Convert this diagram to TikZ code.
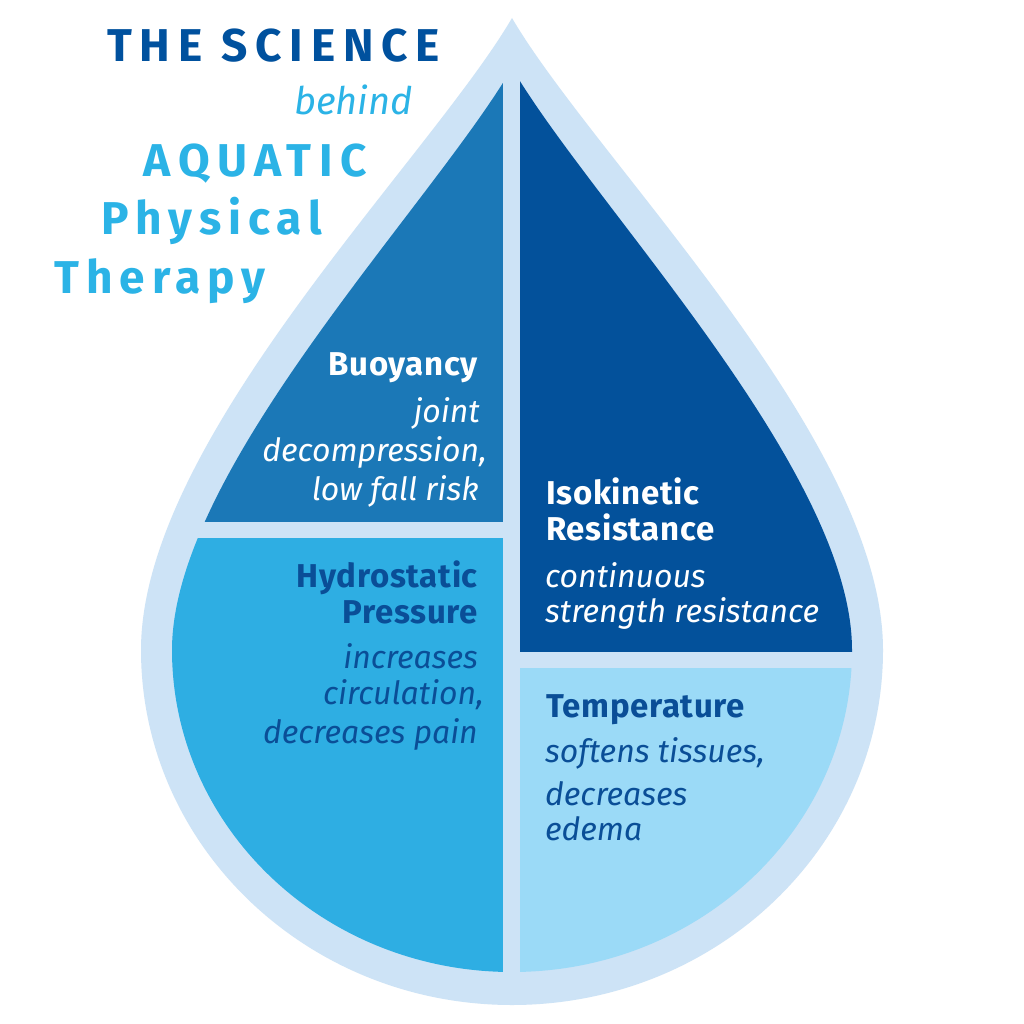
\documentclass[tikz,border=0pt]{standalone}
\usepackage{fontspec}
\setmainfont{Fira Sans}
\definecolor{dropc}{HTML}{CDE3F6}
\definecolor{buoyc}{HTML}{1B78B7}
\definecolor{isoc}{HTML}{03519B}
\definecolor{hydroc}{HTML}{2EAEE3}
\definecolor{tempc}{HTML}{9BDAF7}
\definecolor{txtdark}{HTML}{0A4E97}
\definecolor{titledark}{HTML}{00519E}
\definecolor{titlelight}{HTML}{2BB3E6}
\begin{document}
\begin{tikzpicture}[x=1pt,y=-1pt,
  hd/.style={font=\bfseries\fontsize{33}{33}\selectfont\addfontfeatures{LetterSpace=2}, inner sep=0pt},
  it/.style={font=\itshape\fontsize{32}{32}\selectfont, inner sep=0pt},
  ttl/.style={font=\bfseries\fontsize{46}{46}\selectfont\addfontfeatures{LetterSpace=#1}, inner sep=0pt},
  ttl/.default=16.5]
\useasboundingbox (0,0) rectangle (1024,1024);
\fill[white] (0,0) rectangle (1024,1024);
% outer drop
\fill[dropc] (512,18) .. controls (429,160) and (141,440) .. (141,650)
  arc[start angle=180,end angle=0,x radius=371,y radius=355]
  .. controls (883,440) and (595,160) .. (512,18) -- cycle;
% inner sections
\begin{scope}
\clip (512,68) .. controls (432,205) and (172,470) .. (172,650)
  arc[start angle=180,end angle=0,x radius=340,y radius=322]
  .. controls (852,470) and (592,205) .. (512,68) -- cycle;
\fill[buoyc] (0,0) rectangle (503,522);
\fill[hydroc] (0,538) rectangle (503,1024);
\fill[isoc] (520,0) rectangle (1024,652);
\fill[tempc] (520,668) rectangle (1024,1024);
\end{scope}
% title
\node[ttl=17, text=titledark, anchor=base east] (t1) at (440,62) {THE SCIENCE};
\node[font=\itshape\fontsize{38}{38}\selectfont, inner sep=0pt, text=titlelight, anchor=base east] (t2) at (413,115) {behind};
\node[ttl, text=titlelight, anchor=base east] (t3) at (367,177) {AQUATIC};
\node[ttl=15, text=titlelight, anchor=base east] (t4) at (322,235) {Physical};
\node[ttl=15, text=titlelight, anchor=base east] (t5) at (266,293) {Therapy};
% Buoyancy
\node[hd, text=white, anchor=base east] (b1) at (478,375) {Buoyancy};
\node[it, text=white, anchor=base east] (b2) at (480,422) {joint};
\node[it, text=white, anchor=base east] (b3) at (487,461) {decompression,};
\node[it, text=white, anchor=base east] (b4) at (479,500) {low fall risk};
% Hydrostatic
\node[hd, text=txtdark, anchor=base east] (h1) at (478,587) {Hydrostatic};
\node[hd, text=txtdark, anchor=base east] (h2) at (478,623) {Pressure};
\node[it, text=txtdark, anchor=base east] (h3) at (478,668) {increases};
\node[it, text=txtdark, anchor=base east] (h4) at (484,704) {circulation,};
\node[it, text=txtdark, anchor=base east] (h5) at (478,743) {decreases pain};
% Isokinetic
\node[hd, text=white, anchor=base west] (i1) at (546,504) {Isokinetic};
\node[hd, text=white, anchor=base west] (i2) at (546,540) {Resistance};
\node[it, text=white, anchor=base west] (i3) at (545,587) {continuous};
\node[it, text=white, anchor=base west] (i4) at (545,622) {strength resistance};
% Temperature
\node[hd, text=txtdark, anchor=base west] (p1) at (546,717) {Temperature};
\node[it, text=txtdark, anchor=base west] (p2) at (545,762) {softens tissues,};
\node[it, text=txtdark, anchor=base west] (p3) at (545,805) {decreases};
\node[it, text=txtdark, anchor=base west] (p4) at (545,840) {edema};
\end{tikzpicture}
\end{document}
